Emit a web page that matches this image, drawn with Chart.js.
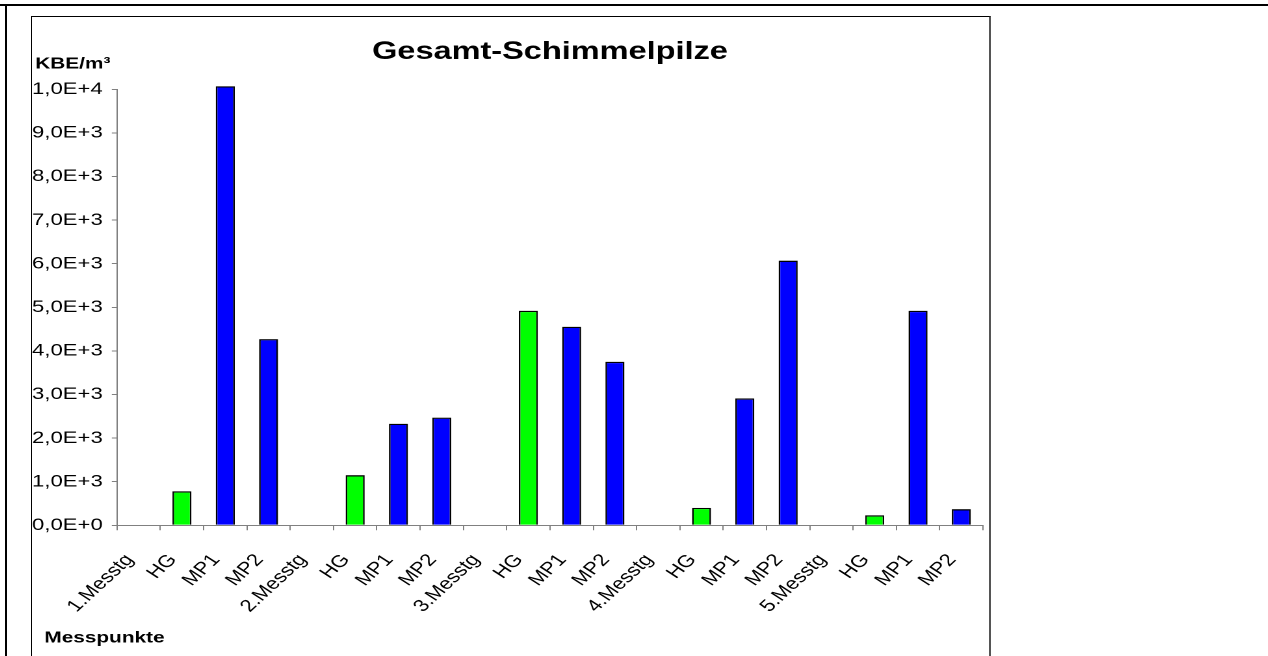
<!DOCTYPE html>
<html>
<head>
<meta charset="utf-8">
<script src="https://cdn.jsdelivr.net/npm/chart.js@4/dist/chart.umd.min.js"></script>
<style>
  html, body { margin: 0; padding: 0; background: #fff; }
  body { width: 1268px; height: 656px; position: relative; overflow: hidden; }
  .rule-top { position: absolute; left: 0; top: 4px; width: 1268px; height: 2px; background: #000; }
  .rule-left { position: absolute; left: 5px; top: 4px; width: 2px; height: 652px; background: #000; }
  .frame { position: absolute; left: 31px; top: 16px; width: 957px; height: 660px;
           border: 1px solid #000; border-right: 2px solid #555; background: #fff; }
  .plot { position: absolute; left: 32px; top: 17px; width: 736px; height: 639px;
          transform: scaleX(1.3); transform-origin: 0 0; }
</style>
</head>
<body>
<div class="rule-top"></div>
<div class="rule-left"></div>
<div class="frame"></div>
<div class="plot"><canvas id="chart"></canvas></div>
<script>
// Sampling points, grouped by measuring day
const categories = [
  '1.Messtg', 'HG', 'MP1', 'MP2',
  '2.Messtg', 'HG', 'MP1', 'MP2',
  '3.Messtg', 'HG', 'MP1', 'MP2',
  '4.Messtg', 'HG', 'MP1', 'MP2',
  '5.Messtg', 'HG', 'MP1', 'MP2'
];

// Total mould count, KBE/m³ (day headers carry no value)
const moldCounts = [
  null, 780, 10070, 4270,
  null, 1150, 2330, 2470,
  null, 4920, 4555, 3750,
  null, 400, 2910, 6070,
  null, 230, 4920, 370
];

// Value axis labels, 0 to 10 000 in steps of 1 000
const yTickLabels = [
  '0,0E+0', '1,0E+3', '2,0E+3', '3,0E+3', '4,0E+3', '5,0E+3',
  '6,0E+3', '7,0E+3', '8,0E+3', '9,0E+3', '1,0E+4'
];

const FONT = "'Liberation Sans', Arial, Helvetica, sans-serif";
const GREEN = '#00FF00';
const BLUE = '#0000FF';

// Background readings (HG) in green, measuring points (MP) in blue
const barColors = categories.map(c => c === 'HG' ? GREEN : BLUE);

// Horizontal axis captions: unit above the value axis, name below the categories
const axisCaptions = {
  id: 'axisCaptions',
  afterDraw(chart) {
    const { ctx, chartArea } = chart;
    ctx.save();
    ctx.fillStyle = '#000';
    ctx.textAlign = 'left';
    ctx.textBaseline = 'middle';
    ctx.font = 'bold 16px ' + FONT;
    ctx.fillText('KBE/m³', 2.5, chartArea.top - 25);
    ctx.fillText('Messpunkte', 9.5, chart.height - 18);
    ctx.restore();
  }
};

new Chart(document.getElementById('chart'), {
  type: 'bar',
  data: {
    labels: categories,
    datasets: [{
      data: moldCounts,
      backgroundColor: barColors,
      borderColor: '#000',
      borderWidth: 1.3,
      borderSkipped: 'bottom',
      barPercentage: 0.44,
      categoryPercentage: 1,
      clip: false
    }]
  },
  options: {
    responsive: true,
    maintainAspectRatio: false,
    devicePixelRatio: 2,
    animation: false,
    layout: { padding: { left: 0, right: 4.5, top: 0, bottom: 0 } },
    plugins: {
      legend: { display: false },
      tooltip: { enabled: false },
      title: {
        display: true,
        text: 'Gesamt-Schimmelpilze',
        fullSize: false,
        color: '#000',
        font: { family: FONT, size: 25, weight: 'bold', lineHeight: 1.2 },
        padding: { top: 20, bottom: 22.3 }
      }
    },
    scales: {
      x: {
        grid: {
          offset: true,
          drawOnChartArea: false,
          drawTicks: true,
          tickLength: 5,
          color: '#808080',
          lineWidth: 1
        },
        border: { color: '#808080', width: 1 },
        ticks: {
          autoSkip: false,
          maxRotation: 50,
          minRotation: 50,
          padding: 20,
          labelOffset: -7,
          color: '#000',
          font: { family: FONT, size: 17 }
        },
        afterFit(scale) {
          scale.height = 130.7;
          scale.paddingLeft = 0;
          scale.paddingRight = 0;
        }
      },
      y: {
        min: 0,
        max: 10000,
        grid: {
          drawOnChartArea: false,
          drawTicks: true,
          tickLength: 4,
          color: '#808080',
          lineWidth: 1
        },
        border: { color: '#808080', width: 1 },
        ticks: {
          stepSize: 1000,
          padding: 7,
          color: '#000',
          font: { family: FONT, size: 17 },
          callback: (value, index) => yTickLabels[index]
        },
        afterFit(scale) { scale.width = 65.4; }
      }
    }
  },
  plugins: [axisCaptions]
});
</script>
</body>
</html>
